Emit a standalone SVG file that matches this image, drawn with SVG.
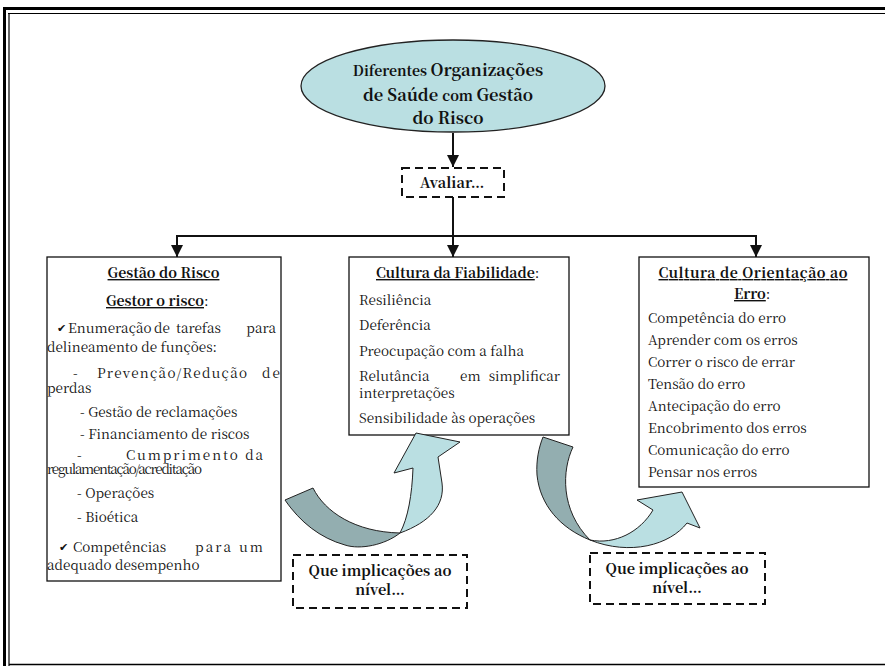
<svg xmlns="http://www.w3.org/2000/svg" width="885" height="666" viewBox="0 0 885 666">
<defs>
<style>
text{font-family:'Noto Serif CJK SC','Liberation Serif',serif;fill:#111;}
.t{font-size:13.5px;}
.h{font-size:14px;}
.bb{font-size:14.5px;font-weight:bold;}
.b{font-weight:bold;}
.u{text-decoration:underline;}
.box{fill:#fff;stroke:#111;stroke-width:1.3;}
.dash{fill:#fff;stroke:#111;stroke-width:2;stroke-dasharray:8 5;}
.con{fill:none;stroke:#111;stroke-width:2;}
.ck{font-family:'DejaVu Sans',sans-serif;font-size:11px;}
</style>
<marker id="ah" viewBox="0 0 12 12" refX="12" refY="6" markerWidth="12" markerHeight="12" markerUnits="userSpaceOnUse" orient="auto">
<path d="M0,0 L12,6 L0,12 Z" fill="#111"/>
</marker>
</defs>
<rect width="885" height="666" fill="#fff"/>
<g id="frame" stroke="#000" fill="none">
<line x1="3" y1="8.5" x2="885" y2="8.5" stroke-width="3"/>
<line x1="8" y1="13.5" x2="885" y2="13.5" stroke-width="1.2"/>
<line x1="4.5" y1="7" x2="4.5" y2="666" stroke-width="3"/>
<line x1="9" y1="13" x2="9" y2="666" stroke-width="1.2"/>
<line x1="9" y1="664.5" x2="885" y2="664.5" stroke-width="1.5"/>
</g>
<g id="connectors">
<line class="con" x1="453" y1="133" x2="453" y2="167" marker-end="url(#ah)"/>
<line class="con" x1="453" y1="194" x2="453" y2="257" marker-end="url(#ah)"/>
<line class="con" x1="176" y1="236" x2="757" y2="236"/>
<line class="con" x1="177" y1="235" x2="177" y2="257" marker-end="url(#ah)"/>
<line class="con" x1="756" y1="235" x2="756" y2="257" marker-end="url(#ah)"/>
</g>
<g id="n-top">
<ellipse cx="453" cy="86" rx="152" ry="46" fill="#BADFE2" stroke="#222" stroke-width="1.3"/>
<text class="b" x="448" y="76" text-anchor="middle"><tspan font-size="14">Diferentes </tspan><tspan font-size="16.5">Organizações</tspan></text>
<text class="b" x="448" y="101" text-anchor="middle"><tspan font-size="16.5">de Saúde </tspan><tspan font-size="14">com </tspan><tspan font-size="16.5">Gestão</tspan></text>
<text class="b" x="448" y="124" text-anchor="middle" font-size="16.5">do Risco</text>
</g>
<g id="n-avaliar">
<rect class="dash" x="402" y="168" width="102" height="29"/>
<text class="bb" x="452" y="188" text-anchor="middle">Avaliar…</text>
</g>
<g id="n-gestao">
<rect class="box" x="47" y="257" width="234" height="324"/>
<text class="h b u" x="163.5" y="278" text-anchor="middle">Gestão do Risco</text>
<text class="h" x="106" y="306"><tspan class="b u">Gestor o risco</tspan>:</text>
<text class="ck" x="57" y="332">✔</text>
<text class="t" x="68" y="333">Enumeração</text>
<text class="t" x="154" y="333">de</text>
<text class="t" x="176" y="333">tarefas</text>
<text class="t" x="276" y="333" text-anchor="end">para</text>
<text class="t" x="47" y="352">delineamento de funções:</text>
<text class="t" x="73" y="378">-</text>
<text class="t" x="97" y="378" textLength="150">Prevenção/Redução</text>
<text class="t" x="262" y="378" textLength="18">de</text>
<text class="t" x="47" y="393">perdas</text>
<text class="t" x="80" y="417">- Gestão de reclamações</text>
<text class="t" x="80" y="439">- Financiamento de riscos</text>
<text class="t" x="77" y="460">-</text>
<text class="t" x="126" y="460" textLength="137">Cumprimento da</text>
<text class="t" x="47" y="474" textLength="155">regulamentação/acreditação</text>
<text class="t" x="77" y="498">- Operações</text>
<text class="t" x="77" y="522">- Bioética</text>
<text class="ck" x="59" y="551">✔</text>
<text class="t" x="73" y="552">Competências</text>
<text class="t" x="195" y="552" textLength="68">para um</text>
<text class="t" x="47" y="570">adequado desempenho</text>
</g>
<g id="n-fiab">
<rect class="box" x="349" y="257" width="220" height="178"/>
<text class="h" x="376" y="278"><tspan class="b u">Cultura da Fiabilidade</tspan>:</text>
<text class="t" x="359" y="305">Resiliência</text>
<text class="t" x="359" y="330">Deferência</text>
<text class="t" x="359" y="356">Preocupação com a falha</text>
<text class="t" x="359" y="381">Relutância</text>
<text class="t" x="460" y="381">em</text>
<text class="t" x="560" y="381" text-anchor="end">simplificar</text>
<text class="t" x="359" y="398">interpretações</text>
<text class="t" x="359" y="423">Sensibilidade às operações</text>
</g>
<g id="n-erro">
<rect class="box" x="639" y="257" width="230" height="230"/>
<text class="h b u" x="753" y="278" text-anchor="middle" textLength="189">Cultura de Orientação ao</text>
<text class="h" x="734" y="299"><tspan class="b u">Erro</tspan>:</text>
<text class="t" x="648" y="323">Competência do erro</text>
<text class="t" x="648" y="345">Aprender com os erros</text>
<text class="t" x="648" y="367">Correr o risco de errar</text>
<text class="t" x="648" y="389">Tensão do erro</text>
<text class="t" x="648" y="411">Antecipação do erro</text>
<text class="t" x="648" y="433">Encobrimento dos erros</text>
<text class="t" x="648" y="455">Comunicação do erro</text>
<text class="t" x="648" y="477">Pensar nos erros</text>
</g>
<g id="curved-arrows" stroke="#222" stroke-width="1" stroke-linejoin="round">
<path d="M285,500 L313,488 C325,512 355,532 400,533 C385,545 360,550 345,545 C320,538 300,522 285,500 Z" fill="#93AEB0"/>
<path d="M400,533 C430,522 445,505 442,483 L438,457 L460,442 L416,433 L394,473 L413,468 C412,495 408,518 400,533 Z" fill="#BADFE2"/>
<path d="M543,437 L573,447 C562,470 560,510 590,540 C560,528 540,505 537,475 C536,460 539,447 543,437 Z" fill="#93AEB0"/>
<path d="M590,540 C615,545 640,532 653,510 L637,500 L682,492 L700,528 L687,523 C670,545 630,556 590,540 Z" fill="#BADFE2"/>
</g>
<g id="n-impl1">
<rect class="dash" x="293" y="555" width="174" height="53"/>
<text class="bb" x="380" y="576" text-anchor="middle">Que implicações ao</text>
<text class="bb" x="380" y="595" text-anchor="middle">nível…</text>
</g>
<g id="n-impl2">
<rect class="dash" x="590" y="553" width="175" height="51"/>
<text class="bb" x="677" y="574" text-anchor="middle">Que implicações ao</text>
<text class="bb" x="677" y="593" text-anchor="middle">nível…</text>
</g>
</svg>
